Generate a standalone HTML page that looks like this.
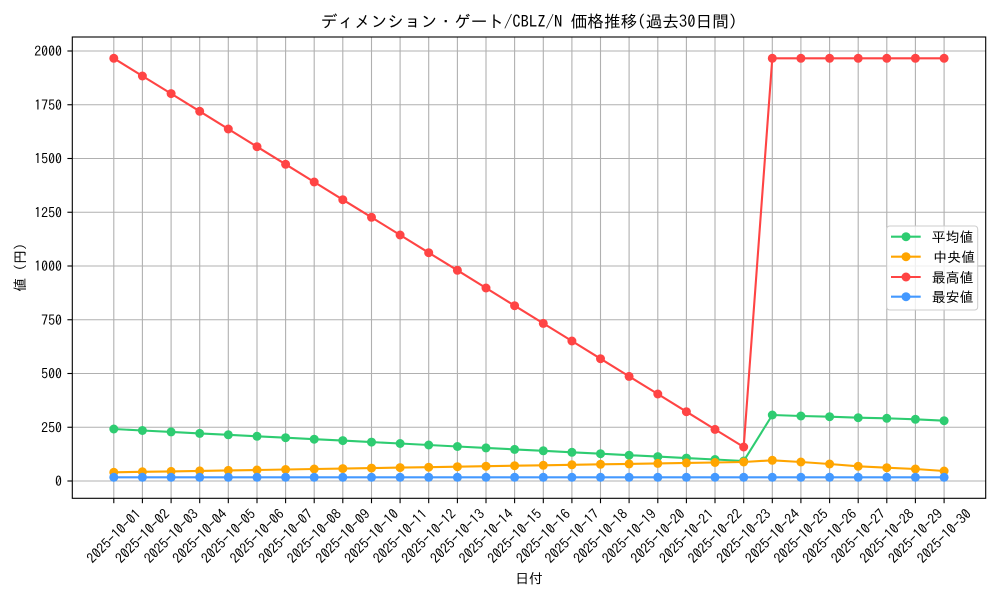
<!DOCTYPE html>
<html><head><meta charset="utf-8"><style>
html,body{margin:0;padding:0;background:#fff;}
svg{display:block;}
text{font-family:"IPAGothic","Liberation Sans","Noto Sans CJK JP",sans-serif;fill:#000;}
</style></head><body>
<svg width="1000" height="600" viewBox="0 0 1000 600" xmlns="http://www.w3.org/2000/svg">
<defs>
<marker id="mg" markerUnits="userSpaceOnUse" markerWidth="10" markerHeight="10" refX="5" refY="5"><circle cx="5" cy="5" r="4.5" fill="#2ecc71"/></marker>
<marker id="mo" markerUnits="userSpaceOnUse" markerWidth="10" markerHeight="10" refX="5" refY="5"><circle cx="5" cy="5" r="4.5" fill="#ffa500"/></marker>
<marker id="mr" markerUnits="userSpaceOnUse" markerWidth="10" markerHeight="10" refX="5" refY="5"><circle cx="5" cy="5" r="4.5" fill="#ff4444"/></marker>
<marker id="mb" markerUnits="userSpaceOnUse" markerWidth="10" markerHeight="10" refX="5" refY="5"><circle cx="5" cy="5" r="4.5" fill="#4499ff"/></marker>
</defs>
<rect x="0" y="0" width="1000" height="600" fill="#fff"/>
<!-- grid -->
<g stroke="#b0b0b0" stroke-width="1.1">
<line x1="72.3" x2="985.7" y1="481" y2="481"/>
<line x1="72.3" x2="985.7" y1="427.25" y2="427.25"/>
<line x1="72.3" x2="985.7" y1="373.5" y2="373.5"/>
<line x1="72.3" x2="985.7" y1="319.75" y2="319.75"/>
<line x1="72.3" x2="985.7" y1="266" y2="266"/>
<line x1="72.3" x2="985.7" y1="212.25" y2="212.25"/>
<line x1="72.3" x2="985.7" y1="158.5" y2="158.5"/>
<line x1="72.3" x2="985.7" y1="104.75" y2="104.75"/>
<line x1="72.3" x2="985.7" y1="51" y2="51"/>
<line y1="37" y2="498.3" x1="113.8" x2="113.8"/>
<line y1="37" y2="498.3" x1="142.4" x2="142.4"/>
<line y1="37" y2="498.3" x1="171.1" x2="171.1"/>
<line y1="37" y2="498.3" x1="199.7" x2="199.7"/>
<line y1="37" y2="498.3" x1="228.3" x2="228.3"/>
<line y1="37" y2="498.3" x1="257.0" x2="257.0"/>
<line y1="37" y2="498.3" x1="285.6" x2="285.6"/>
<line y1="37" y2="498.3" x1="314.2" x2="314.2"/>
<line y1="37" y2="498.3" x1="342.8" x2="342.8"/>
<line y1="37" y2="498.3" x1="371.5" x2="371.5"/>
<line y1="37" y2="498.3" x1="400.1" x2="400.1"/>
<line y1="37" y2="498.3" x1="428.7" x2="428.7"/>
<line y1="37" y2="498.3" x1="457.4" x2="457.4"/>
<line y1="37" y2="498.3" x1="486.0" x2="486.0"/>
<line y1="37" y2="498.3" x1="514.6" x2="514.6"/>
<line y1="37" y2="498.3" x1="543.3" x2="543.3"/>
<line y1="37" y2="498.3" x1="571.9" x2="571.9"/>
<line y1="37" y2="498.3" x1="600.5" x2="600.5"/>
<line y1="37" y2="498.3" x1="629.1" x2="629.1"/>
<line y1="37" y2="498.3" x1="657.8" x2="657.8"/>
<line y1="37" y2="498.3" x1="686.4" x2="686.4"/>
<line y1="37" y2="498.3" x1="715.0" x2="715.0"/>
<line y1="37" y2="498.3" x1="743.7" x2="743.7"/>
<line y1="37" y2="498.3" x1="772.3" x2="772.3"/>
<line y1="37" y2="498.3" x1="800.9" x2="800.9"/>
<line y1="37" y2="498.3" x1="829.6" x2="829.6"/>
<line y1="37" y2="498.3" x1="858.2" x2="858.2"/>
<line y1="37" y2="498.3" x1="886.8" x2="886.8"/>
<line y1="37" y2="498.3" x1="915.4" x2="915.4"/>
<line y1="37" y2="498.3" x1="944.1" x2="944.1"/>
</g>
<!-- series -->
<g fill="none" stroke-width="2.1" stroke-linejoin="round" stroke-linecap="round">
<polyline stroke="#2ecc71" marker-start="url(#mg)" marker-mid="url(#mg)" marker-end="url(#mg)" points="113.8,429.0 142.4,430.5 171.1,431.9 199.7,433.4 228.3,434.8 257.0,436.3 285.6,437.7 314.2,439.2 342.8,440.6 371.5,442.1 400.1,443.5 428.7,445.0 457.4,446.5 486.0,447.9 514.6,449.4 543.3,450.8 571.9,452.3 600.5,453.7 629.1,455.2 657.8,456.6 686.4,458.1 715.0,459.5 743.7,461.0 772.3,415.0 800.9,416.0 829.6,416.7 858.2,417.7 886.8,418.3 915.4,419.3 944.1,420.7"/>
<polyline stroke="#ffa500" marker-start="url(#mo)" marker-mid="url(#mo)" marker-end="url(#mo)" points="113.8,472.3 142.4,471.8 171.1,471.4 199.7,470.9 228.3,470.4 257.0,470.0 285.6,469.5 314.2,469.0 342.8,468.6 371.5,468.1 400.1,467.6 428.7,467.2 457.4,466.7 486.0,466.2 514.6,465.7 543.3,465.3 571.9,464.8 600.5,464.3 629.1,463.9 657.8,463.4 686.4,462.9 715.0,462.5 743.7,462.0 772.3,460.3 800.9,462.0 829.6,464.0 858.2,466.3 886.8,467.7 915.4,469.0 944.1,471.0"/>
<polyline stroke="#ff4444" marker-start="url(#mr)" marker-mid="url(#mr)" marker-end="url(#mr)" points="113.8,58.3 142.4,76.0 171.1,93.6 199.7,111.3 228.3,129.0 257.0,146.7 285.6,164.3 314.2,182.0 342.8,199.7 371.5,217.3 400.1,235.0 428.7,252.7 457.4,270.3 486.0,288.0 514.6,305.7 543.3,323.4 571.9,341.0 600.5,358.7 629.1,376.4 657.8,394.0 686.4,411.7 715.0,429.4 743.7,447.0 772.3,58.3 800.9,58.3 829.6,58.3 858.2,58.3 886.8,58.3 915.4,58.3 944.1,58.3"/>
<polyline stroke="#4499ff" marker-start="url(#mb)" marker-mid="url(#mb)" marker-end="url(#mb)" points="113.8,477.3 142.4,477.3 171.1,477.3 199.7,477.3 228.3,477.3 257.0,477.3 285.6,477.3 314.2,477.3 342.8,477.3 371.5,477.3 400.1,477.3 428.7,477.3 457.4,477.3 486.0,477.3 514.6,477.3 543.3,477.3 571.9,477.3 600.5,477.3 629.1,477.3 657.8,477.3 686.4,477.3 715.0,477.3 743.7,477.3 772.3,477.3 800.9,477.3 829.6,477.3 858.2,477.3 886.8,477.3 915.4,477.3 944.1,477.3"/>
</g>
<!-- axes frame -->
<rect x="72.3" y="37" width="913.4" height="461.3" fill="none" stroke="#000" stroke-width="1.1"/>
<!-- y ticks -->
<g stroke="#000" stroke-width="1.1">
<line x1="67.4" x2="72.3" y1="481" y2="481"/>
<line x1="67.4" x2="72.3" y1="427.25" y2="427.25"/>
<line x1="67.4" x2="72.3" y1="373.5" y2="373.5"/>
<line x1="67.4" x2="72.3" y1="319.75" y2="319.75"/>
<line x1="67.4" x2="72.3" y1="266" y2="266"/>
<line x1="67.4" x2="72.3" y1="212.25" y2="212.25"/>
<line x1="67.4" x2="72.3" y1="158.5" y2="158.5"/>
<line x1="67.4" x2="72.3" y1="104.75" y2="104.75"/>
<line x1="67.4" x2="72.3" y1="51" y2="51"/>
</g>
<g font-size="13.9" text-anchor="end" dominant-baseline="central">
<text x="62" y="481">0</text>
<text x="62" y="427.25">250</text>
<text x="62" y="373.5">500</text>
<text x="62" y="319.75">750</text>
<text x="62" y="266">1000</text>
<text x="62" y="212.25">1250</text>
<text x="62" y="158.5">1500</text>
<text x="62" y="104.75">1750</text>
<text x="62" y="51">2000</text>
</g>
<!-- x ticks -->
<g stroke="#000" stroke-width="1.1">
<line y1="498.3" y2="503.2" x1="113.8" x2="113.8"/><line y1="498.3" y2="503.2" x1="142.4" x2="142.4"/><line y1="498.3" y2="503.2" x1="171.1" x2="171.1"/><line y1="498.3" y2="503.2" x1="199.7" x2="199.7"/><line y1="498.3" y2="503.2" x1="228.3" x2="228.3"/><line y1="498.3" y2="503.2" x1="257.0" x2="257.0"/><line y1="498.3" y2="503.2" x1="285.6" x2="285.6"/><line y1="498.3" y2="503.2" x1="314.2" x2="314.2"/><line y1="498.3" y2="503.2" x1="342.8" x2="342.8"/><line y1="498.3" y2="503.2" x1="371.5" x2="371.5"/><line y1="498.3" y2="503.2" x1="400.1" x2="400.1"/><line y1="498.3" y2="503.2" x1="428.7" x2="428.7"/><line y1="498.3" y2="503.2" x1="457.4" x2="457.4"/><line y1="498.3" y2="503.2" x1="486.0" x2="486.0"/><line y1="498.3" y2="503.2" x1="514.6" x2="514.6"/><line y1="498.3" y2="503.2" x1="543.3" x2="543.3"/><line y1="498.3" y2="503.2" x1="571.9" x2="571.9"/><line y1="498.3" y2="503.2" x1="600.5" x2="600.5"/><line y1="498.3" y2="503.2" x1="629.1" x2="629.1"/><line y1="498.3" y2="503.2" x1="657.8" x2="657.8"/><line y1="498.3" y2="503.2" x1="686.4" x2="686.4"/><line y1="498.3" y2="503.2" x1="715.0" x2="715.0"/><line y1="498.3" y2="503.2" x1="743.7" x2="743.7"/><line y1="498.3" y2="503.2" x1="772.3" x2="772.3"/><line y1="498.3" y2="503.2" x1="800.9" x2="800.9"/><line y1="498.3" y2="503.2" x1="829.6" x2="829.6"/><line y1="498.3" y2="503.2" x1="858.2" x2="858.2"/><line y1="498.3" y2="503.2" x1="886.8" x2="886.8"/><line y1="498.3" y2="503.2" x1="915.4" x2="915.4"/><line y1="498.3" y2="503.2" x1="944.1" x2="944.1"/>
</g>
<g font-size="13.9" text-anchor="middle" dominant-baseline="central">
<text transform="translate(113.8,536) rotate(-45)">2025-10-01</text>
<text transform="translate(142.4,536) rotate(-45)">2025-10-02</text>
<text transform="translate(171.1,536) rotate(-45)">2025-10-03</text>
<text transform="translate(199.7,536) rotate(-45)">2025-10-04</text>
<text transform="translate(228.3,536) rotate(-45)">2025-10-05</text>
<text transform="translate(257.0,536) rotate(-45)">2025-10-06</text>
<text transform="translate(285.6,536) rotate(-45)">2025-10-07</text>
<text transform="translate(314.2,536) rotate(-45)">2025-10-08</text>
<text transform="translate(342.8,536) rotate(-45)">2025-10-09</text>
<text transform="translate(371.5,536) rotate(-45)">2025-10-10</text>
<text transform="translate(400.1,536) rotate(-45)">2025-10-11</text>
<text transform="translate(428.7,536) rotate(-45)">2025-10-12</text>
<text transform="translate(457.4,536) rotate(-45)">2025-10-13</text>
<text transform="translate(486.0,536) rotate(-45)">2025-10-14</text>
<text transform="translate(514.6,536) rotate(-45)">2025-10-15</text>
<text transform="translate(543.3,536) rotate(-45)">2025-10-16</text>
<text transform="translate(571.9,536) rotate(-45)">2025-10-17</text>
<text transform="translate(600.5,536) rotate(-45)">2025-10-18</text>
<text transform="translate(629.1,536) rotate(-45)">2025-10-19</text>
<text transform="translate(657.8,536) rotate(-45)">2025-10-20</text>
<text transform="translate(686.4,536) rotate(-45)">2025-10-21</text>
<text transform="translate(715.0,536) rotate(-45)">2025-10-22</text>
<text transform="translate(743.7,536) rotate(-45)">2025-10-23</text>
<text transform="translate(772.3,536) rotate(-45)">2025-10-24</text>
<text transform="translate(800.9,536) rotate(-45)">2025-10-25</text>
<text transform="translate(829.6,536) rotate(-45)">2025-10-26</text>
<text transform="translate(858.2,536) rotate(-45)">2025-10-27</text>
<text transform="translate(886.8,536) rotate(-45)">2025-10-28</text>
<text transform="translate(915.4,536) rotate(-45)">2025-10-29</text>
<text transform="translate(944.1,536) rotate(-45)">2025-10-30</text>
</g>
<!-- labels -->
<text x="529" y="578.5" font-size="13.9" text-anchor="middle" dominant-baseline="central">日付</text>
<text transform="translate(20,267.5) rotate(-90)" font-size="13.9" text-anchor="middle" dominant-baseline="central">値 (円)</text>
<text x="529" y="22" font-size="16.67" text-anchor="middle" dominant-baseline="central">ディメンション・ゲート/CBLZ/N 価格推移(過去30日間)</text>
<!-- legend -->
<rect x="886.7" y="226" width="91" height="84" rx="3" ry="3" fill="#fff" fill-opacity="0.8" stroke="#cccccc" stroke-width="1"/>
<g stroke-width="2.1">
<line x1="891" x2="920.7" y1="236.7" y2="236.7" stroke="#2ecc71"/>
<line x1="891" x2="920.7" y1="256.7" y2="256.7" stroke="#ffa500"/>
<line x1="891" x2="920.7" y1="277" y2="277" stroke="#ff4444"/>
<line x1="891" x2="920.7" y1="296.7" y2="296.7" stroke="#4499ff"/>
</g>
<circle cx="906" cy="236.7" r="4.5" fill="#2ecc71"/>
<circle cx="906" cy="256.7" r="4.5" fill="#ffa500"/>
<circle cx="906" cy="277" r="4.5" fill="#ff4444"/>
<circle cx="906" cy="296.7" r="4.5" fill="#4499ff"/>
<g font-size="13.9" dominant-baseline="central">
<text x="931.7" y="237">平均値</text>
<text x="933.3" y="257">中央値</text>
<text x="931.7" y="277.3">最高値</text>
<text x="931.7" y="297">最安値</text>
</g>
</svg>
</body></html>
